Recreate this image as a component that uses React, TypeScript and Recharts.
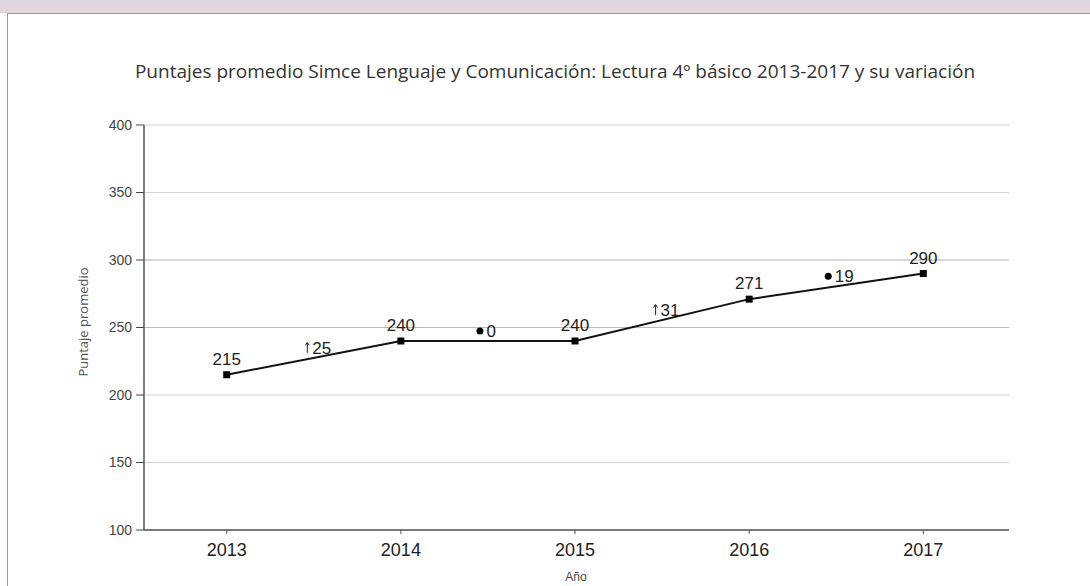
import React from "react";
import {
  ComposedChart,
  Line,
  XAxis,
  YAxis,
  CartesianGrid,
  LabelList,
  ReferenceDot,
  ReferenceLine,
} from "recharts";

const years = [2013, 2014, 2015, 2016, 2017];
const scores = [215, 240, 240, 271, 290];
const changes = [25, 0, 31, 19];
const changeKinds = ["up", "same", "up", "same"];
const yTicks = [100, 150, 200, 250, 300, 350, 400];

const scoreData = years.map((year, i) => ({ year, score: scores[i] }));
const variationData = changes.map((change, i) => ({
  year: (years[i] + years[i + 1]) / 2,
  score: (scores[i] + scores[i + 1]) / 2,
  change,
  kind: changeKinds[i],
}));

const TITLE =
  "Puntajes promedio Simce Lenguaje y Comunicación: Lectura 4º básico 2013-2017 y su variación";

const SquareDot = (props: any) => {
  const { cx, cy } = props;
  if (cx == null || cy == null) return null;
  return <rect x={cx - 3.5} y={cy - 3.5} width={7} height={7} fill="#000" />;
};

const makeVariationShape = (change: number, kind: string) => (props: any) => {
  const { cx, cy } = props;
  if (cx == null || cy == null) return <g />;
  const base = cy - 4;
  return (
    <g>
      {kind === "up" ? (
        <g stroke="#222" strokeWidth={1} fill="none">
          <line x1={cx - 6.5} y1={base - 1} x2={cx - 6.5} y2={base - 11} />
          <path d={`M ${cx - 8.5} ${base - 8.5} L ${cx - 6.5} ${base - 11.5} L ${cx - 4.5} ${base - 8.5}`} />
        </g>
      ) : (
        <circle cx={cx - 8} cy={base - 6} r={3.5} fill="#000" />
      )}
      <text
        x={cx - 1.5}
        y={base}
        fontSize={17}
        fontFamily="Arial, 'Liberation Sans', sans-serif"
        fill="#222"
        textAnchor="start"
      >
        {change}
      </text>
    </g>
  );
};

export default function App() {
  return (
    <div
      style={{
        position: "absolute",
        left: 0,
        top: 0,
        width: 1090,
        height: 586,
        overflow: "hidden",
        background: "#fff",
      }}
    >
      <div
        style={{
          position: "absolute",
          left: 0,
          top: 0,
          width: 1090,
          height: 13,
          background: "#e1d5df",
        }}
      />
      <div
        style={{
          position: "absolute",
          left: 7,
          top: 13,
          width: 1100,
          height: 600,
          borderTop: "1.5px solid #c57fb2",
          borderLeft: "1.5px solid #c57fb2",
        }}
      />
      <div
        style={{
          position: "absolute",
          left: 0,
          top: 58,
          width: 1110,
          textAlign: "center",
          fontFamily: "'Open Sans', sans-serif",
          fontSize: 19,
          lineHeight: "26px",
          color: "#333",
          whiteSpace: "nowrap",
        }}
      >
        {TITLE}
      </div>
      <div
        style={{
          position: "absolute",
          left: 83 - 80,
          top: 322 - 9,
          width: 160,
          height: 18,
          lineHeight: "18px",
          textAlign: "center",
          transform: "rotate(-90deg)",
          fontFamily: "'Open Sans', sans-serif",
          fontSize: 13,
          color: "#555",
          whiteSpace: "nowrap",
        }}
      >
        Puntaje promedio
      </div>
      <div
        style={{
          position: "absolute",
          left: 576 - 40,
          top: 569,
          width: 80,
          textAlign: "center",
          fontFamily: "Arial, 'Liberation Sans', sans-serif",
          fontSize: 12,
          lineHeight: "16px",
          color: "#444",
        }}
      >
        Año
      </div>
      <div style={{ position: "absolute", left: 0, top: 0 }}>
        <ComposedChart
          width={1090}
          height={586}
          margin={{ top: 125, right: 81, bottom: 0, left: 0 }}
        >
          <CartesianGrid horizontal vertical={false} stroke="#d4d4d4" />
          <ReferenceLine y={250} stroke="#bcbcbc" />
          <ReferenceLine y={300} stroke="#c4c4c4" />
          <XAxis
            type="number"
            dataKey="year"
            domain={[2012.525, 2017.492]}
            ticks={years}
            allowDataOverflow
            height={56}
            tickSize={4}
            tickMargin={9}
            axisLine={{ stroke: "#555", strokeWidth: 1.5 }}
            tickLine={{ stroke: "#555" }}
            tick={{
              fontSize: 18,
              fill: "#222",
              fontFamily: "Arial, 'Liberation Sans', sans-serif",
            }}
          />
          <YAxis
            type="number"
            domain={[100, 400]}
            ticks={yTicks}
            allowDataOverflow
            width={144}
            tickSize={8}
            tickMargin={4}
            axisLine={{ stroke: "#555", strokeWidth: 1.5 }}
            tickLine={{ stroke: "#444" }}
            tick={{
              fontSize: 14,
              fill: "#444",
              fontFamily: "Arial, 'Liberation Sans', sans-serif",
            }}
          />
          <Line
            data={scoreData}
            dataKey="score"
            stroke="#111"
            strokeWidth={2}
            dot={<SquareDot />}
            activeDot={false}
            isAnimationActive={false}
          >
            <LabelList
              dataKey="score"
              position="top"
              offset={10}
              fontSize={17}
              fill="#222"
              fontFamily="Arial, 'Liberation Sans', sans-serif"
            />
          </Line>
          {variationData.map((v, i) => (
            <ReferenceDot
              key={i}
              x={v.year}
              y={v.score}
              r={0}
              ifOverflow="visible"
              shape={makeVariationShape(v.change, v.kind)}
            />
          ))}
        </ComposedChart>
      </div>
    </div>
  );
}
